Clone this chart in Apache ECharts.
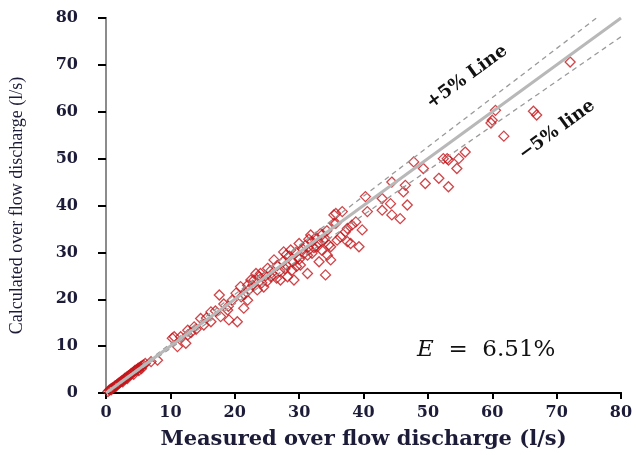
<!DOCTYPE html>
<html>
<head>
<meta charset="utf-8">
<script src="https://cdn.jsdelivr.net/npm/echarts@6/dist/echarts.min.js"></script>
<style>
  html, body { margin: 0; padding: 0; background: #fff; }
  #chart { width: 636px; height: 455px; }
</style>
</head>
<body>
<div id="chart"></div>
<script>
// measured (x) and calculated (y) over flow discharge, l/s
var measured = [
  0.3, 0.5, 0.7, 0.8, 0.9, 1.0, 1.2, 1.4, 1.5, 1.6, 1.7, 1.9, 2.0, 2.2, 2.4, 2.5, 2.6, 2.7, 2.9,
  3.0, 3.2, 3.3, 3.4, 3.5, 3.7, 3.9, 4.0, 4.2, 4.3, 4.4, 4.5, 4.7, 4.9, 5.0, 5.1, 5.2, 5.4, 5.5,
  5.6, 5.8, 6.1,
  7.0, 8.0, 10.3, 11.1, 11.6, 12.4, 12.7, 10.6, 12.7, 13.7, 14.7, 15.2, 16.3, 16.3, 17.6, 17.8,
  18.9, 19.1, 20.4, 19.6, 20.2, 21.4, 20.9, 22.0, 22.2, 22.5, 23.3, 14.0, 15.6, 17.0, 18.3, 19.0,
  21.0, 13.2,
  23.0, 24.0, 25.1, 25.6, 26.1, 27.1, 27.6, 28.2, 28.7, 28.9, 29.2, 30.0, 30.2, 31.3, 31.3, 31.8,
  32.8, 33.1, 33.3, 33.8, 34.1, 34.4, 34.6, 34.9, 34.9, 35.4, 35.4, 35.9,
  21.5, 22.8, 23.5, 24.2, 24.8, 25.5, 26.0, 26.6, 27.0, 27.5, 28.0, 28.5, 29.0, 29.5, 29.8, 30.5,
  30.8, 31.0, 31.6, 32.0, 32.3, 32.6, 33.0, 33.6, 34.0, 34.3, 22.0, 24.5, 26.5, 28.0, 30.0, 32.0,
  23.8, 25.0, 27.8, 29.6, 31.5, 33.5,
  35.7, 35.7, 36.4, 36.7, 37.2, 37.5, 37.5, 38.0, 38.2, 38.8, 39.3, 39.8, 40.3, 40.6, 42.9, 42.9,
  44.2, 44.4, 44.4, 45.7, 46.2, 46.5, 46.8, 47.8, 49.3, 49.6, 51.7, 52.4, 53.0, 53.2, 53.2, 54.5,
  54.8, 55.8, 60.5, 60.0, 59.8, 61.8, 66.4, 66.9, 72.1
];
var calculated = [
  0.3, 0.6, 0.8, 0.7, 0.9, 1.1, 1.2, 1.5, 1.5, 1.5, 1.8, 2.0, 2.1, 2.3, 2.5, 2.6, 2.4, 2.8, 3.1,
  3.1, 3.4, 3.1, 3.5, 3.7, 3.8, 4.1, 4.2, 4.4, 4.0, 4.6, 4.8, 4.9, 5.1, 5.3, 4.8, 5.4, 5.6, 5.2,
  5.8, 6.0, 6.3,
  6.7, 7.0, 11.7, 9.9, 12.0, 10.6, 12.4, 12.0, 13.4, 14.1, 15.9, 14.5, 15.2, 17.3, 20.9, 16.3,
  17.7, 15.6, 15.2, 19.8, 21.3, 18.1, 22.7, 19.8, 22.0, 24.1, 25.5, 13.6, 16.0, 17.5, 19.0, 18.5,
  20.5, 12.9,
  24.1, 25.5, 26.6, 24.8, 28.4, 24.1, 30.1, 24.8, 30.5, 26.2, 24.1, 31.9, 27.3, 29.4, 25.5, 33.7,
  31.2, 28.0, 34.0, 32.6, 25.2, 29.4, 31.6, 28.4, 31.2, 38.0, 36.2, 32.6,
  21.0, 23.0, 22.0, 23.5, 25.0, 26.0, 25.2, 27.2, 26.0, 28.0, 27.3, 29.2, 28.0, 30.0, 29.0, 30.8,
  29.8, 31.5, 30.6, 32.3, 31.0, 33.2, 32.0, 33.8, 33.0, 34.6, 23.0, 22.6, 24.5, 29.5, 28.5, 29.8,
  24.8, 23.8, 26.5, 27.0, 32.8, 30.5,
  36.2, 38.3, 33.3, 38.7, 34.4, 35.1, 32.3, 31.9, 35.8, 36.5, 31.2, 34.8, 41.9, 38.7, 41.5, 39.0,
  40.4, 38.0, 45.0, 37.2, 42.9, 44.3, 40.1, 49.3, 47.9, 44.7, 45.8, 50.0, 50.0, 49.7, 44.0, 47.9,
  50.0, 51.4, 60.3, 58.2, 57.6, 54.8, 60.1, 59.3, 70.6
];
// reference lines: 1:1, +5%, -5%
var equalLineX = [0, 80], equalLineY = [0, 80];
var plusLineX = [0, 76.19], plusLineY = [0, 80];
var minusLineX = [0, 80], minusLineY = [0, 76];

function pairs(xs, ys) {
  var out = [];
  for (var i = 0; i < xs.length; i++) out.push([xs[i], ys[i]]);
  return out;
}

var chart = echarts.init(document.getElementById('chart'));
var labelFont = 'DejaVu Serif';
var labelColor = '#1c1c38';
var ang = 36 * Math.PI / 180;

option = {
  backgroundColor: '#FFFFFF',
  animation: false,
  grid: { left: 105, right: 15, top: 18, bottom: 62 },
  xAxis: [{
    type: 'value',
    min: 0, max: 80, interval: 10,
    name: 'Measured over flow discharge (l/s)',
    nameLocation: 'middle',
    nameGap: 36,
    nameTextStyle: { fontFamily: labelFont, fontWeight: 'bold', fontSize: 21, color: labelColor },
    axisLine: { lineStyle: { color: '#000', width: 2 } },
    axisTick: { show: true, length: 6, lineStyle: { color: '#000', width: 2 } },
    axisLabel: { margin: 12, fontFamily: labelFont, fontWeight: 'bold', fontSize: 16, color: labelColor },
    splitLine: { show: false }
  }, {
    type: 'value', position: 'top',
    min: 0, max: 80, interval: 10,
    axisLine: { show: true, lineStyle: { color: '#000', width: 2 } },
    axisTick: { show: false }, axisLabel: { show: false }, splitLine: { show: false }
  }],
  yAxis: [{
    type: 'value',
    min: 0, max: 80, interval: 10,
    name: 'Calculated over flow discharge (l/s)',
    nameLocation: 'middle',
    nameGap: 80,
    nameTextStyle: { fontFamily: 'Liberation Serif', fontSize: 18, color: labelColor },
    axisLine: { show: true, lineStyle: { color: '#000', width: 2 } },
    axisTick: { show: true, length: 8, lineStyle: { color: '#000', width: 2 } },
    axisLabel: { margin: 28, fontFamily: labelFont, fontWeight: 'bold', fontSize: 16, color: labelColor },
    splitLine: { show: false }
  }, {
    type: 'value', position: 'right',
    min: 0, max: 80, interval: 10,
    axisLine: { show: true, lineStyle: { color: '#8c8c8c', width: 2 } },
    axisTick: { show: false }, axisLabel: { show: false }, splitLine: { show: false }
  }],
  graphic: [
    { type: 'text', x: 467, y: 77, rotation: ang,
      style: { text: '+5% Line', font: 'bold 18px "DejaVu Serif"', fill: '#111', align: 'center', verticalAlign: 'middle' } },
    { type: 'text', x: 557, y: 130, rotation: ang,
      style: { text: '\u22125% line', font: 'bold 18px "DejaVu Serif"', fill: '#111', align: 'center', verticalAlign: 'middle' } },
    { type: 'text', x: 417, y: 350,
      style: { text: '{i|E}  =  6.51%', font: '23px "DejaVu Serif"', fill: '#111', verticalAlign: 'middle',
        rich: { i: { fontStyle: 'italic', fontFamily: 'DejaVu Serif', fontSize: 23 } } } }
  ],
  series: [
    {
      name: 'data',
      type: 'scatter',
      symbol: 'diamond',
      symbolSize: 10,
      itemStyle: { color: 'rgba(0,0,0,0)', borderColor: '#c4161c', borderWidth: 1.3 },
      data: pairs(measured, calculated),
      z: 2
    },
    {
      name: '+5%', type: 'line', showSymbol: false, silent: true,
      lineStyle: { color: '#9a9a9a', width: 1.3, type: [5, 4] },
      data: pairs(plusLineX, plusLineY), z: 3
    },
    {
      name: '-5%', type: 'line', showSymbol: false, silent: true,
      lineStyle: { color: '#9a9a9a', width: 1.3, type: [5, 4] },
      data: pairs(minusLineX, minusLineY), z: 3
    },
    {
      name: '1:1', type: 'line', showSymbol: false, silent: true,
      lineStyle: { color: '#b8b8b8', width: 3 },
      data: pairs(equalLineX, equalLineY), z: 4
    }
  ]
};

chart.setOption(option);
</script>
</body>
</html>
